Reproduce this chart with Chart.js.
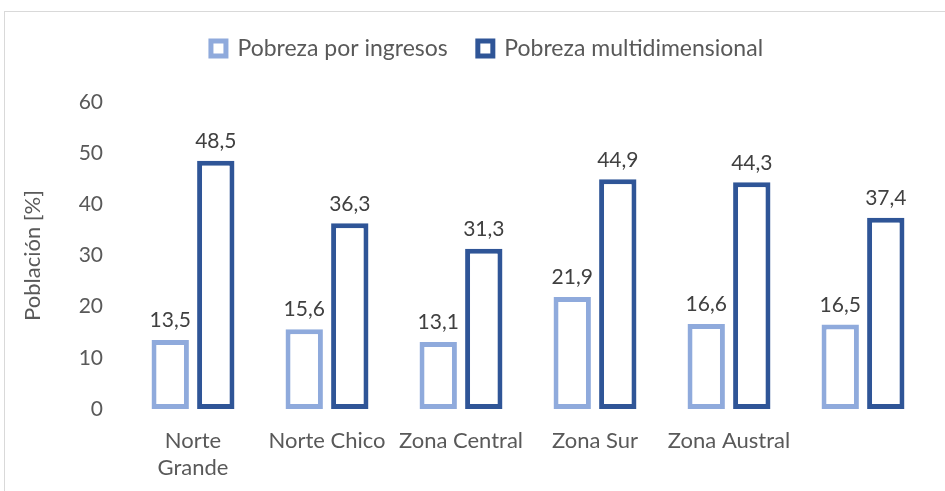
<!DOCTYPE html>
<html>
<head>
<meta charset="utf-8">
<script src="https://cdn.jsdelivr.net/npm/chart.js@4/dist/chart.umd.min.js"></script>
<style>
  html, body { margin: 0; padding: 0; background: #fff; }
  #wrap { position: relative; width: 945px; height: 491px; overflow: hidden; }
  #frame { position: absolute; left: 4px; top: 11px; width: 960px; height: 500px;
           border-left: 1px solid #d9d9d9; border-top: 1px solid #d9d9d9; }
  canvas { position: absolute; left: 0; top: 0; }
</style>
</head>
<body>
<div id="wrap">
  <div id="frame"></div>
  <canvas id="chart" width="945" height="491"></canvas>
</div>
<script>
// zonas
const zonas = [['Norte', 'Grande'], 'Norte Chico', 'Zona Central', 'Zona Sur', 'Zona Austral', ''];
// valores
const ingresos = [13.5, 15.6, 13.1, 21.9, 16.6, 16.5];
const multidimensional = [48.5, 36.3, 31.3, 44.9, 44.3, 37.4];

const fuente = 'Lato, "Open Sans", sans-serif';

// etiquetas encima de cada barra
const etiquetas = {
  id: 'etiquetas',
  afterDatasetsDraw(chart) {
    const ctx = chart.ctx;
    ctx.save();
    ctx.font = '21px ' + fuente;
    ctx.fillStyle = '#404040';
    ctx.textAlign = 'center';
    ctx.textBaseline = 'bottom';
    chart.data.datasets.forEach((ds, i) => {
      chart.getDatasetMeta(i).data.forEach((bar, j) => {
        const txt = ds.data[j].toFixed(1).replace('.', ',');
        ctx.fillText(txt, bar.x, bar.y - 9);
      });
    });
    ctx.restore();
  }
};

// espacio extra bajo la leyenda y un leve corrimiento a la derecha
const margenLeyenda = {
  id: 'margenLeyenda',
  beforeInit(chart) {
    const fit = chart.legend.fit;
    chart.legend.fit = function () {
      fit.bind(chart.legend)();
      this.height += 32;
    };
  },
  afterLayout(chart) {
    chart.legend.left += 14;
    chart.legend.right += 14;
  }
};

new Chart(document.getElementById('chart'), {
  type: 'bar',
  data: {
    labels: zonas,
    datasets: [
      {
        label: 'Pobreza por ingresos',
        data: ingresos,
        backgroundColor: '#ffffff',
        borderColor: '#8FAADC',
        borderWidth: 5,
        borderSkipped: false
      },
      {
        label: 'Pobreza multidimensional',
        data: multidimensional,
        backgroundColor: '#ffffff',
        borderColor: '#2F5597',
        borderWidth: 5,
        borderSkipped: false
      }
    ]
  },
  options: {
    responsive: false,
    animation: false,
    datasets: {
      bar: { categoryPercentage: 0.68, barPercentage: 0.82 }
    },
    layout: { padding: { left: 16, right: 15, top: 7, bottom: 12 } },
    plugins: {
      legend: {
        position: 'top',
        labels: {
          color: '#595959',
          font: { family: fuente, size: 23 },
          boxWidth: 15,
          boxHeight: 15,
          padding: 30
        }
      },
      tooltip: { enabled: false }
    },
    scales: {
      x: {
        afterFit(scale) { scale.height = 70; },
        grid: { display: false, drawTicks: false },
        border: { display: false },
        ticks: {
          color: '#595959',
          font: { family: fuente, size: 22 },
          padding: 19,
          maxRotation: 0,
          autoSkip: false
        }
      },
      y: {
        min: 0,
        max: 60,
        afterFit(scale) { scale.width = 110; },
        grid: { display: false, drawTicks: false },
        border: { display: false },
        ticks: {
          stepSize: 10,
          color: '#595959',
          font: { family: fuente, size: 21 },
          padding: 23
        },
        title: {
          display: true,
          text: 'Población [%]',
          color: '#595959',
          font: { family: fuente, size: 22 }
        }
      }
    }
  },
  plugins: [etiquetas, margenLeyenda]
});
</script>
</body>
</html>
